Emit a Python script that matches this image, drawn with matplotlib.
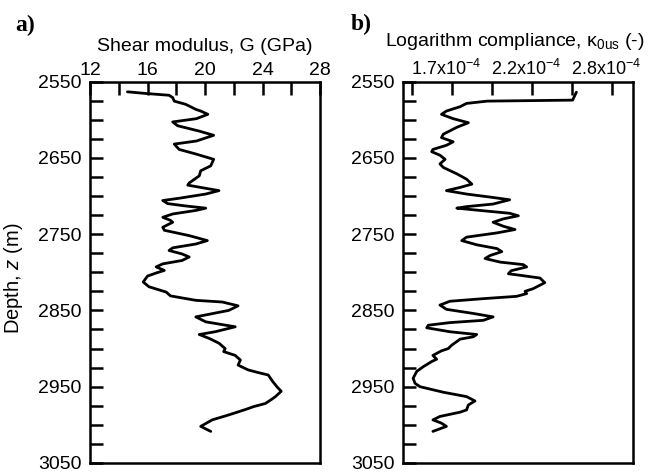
import numpy as np
import matplotlib
matplotlib.use("Agg")
import matplotlib.pyplot as plt
from matplotlib.ticker import FixedLocator, NullLocator
import matplotlib.transforms as mtransforms

plt.rcParams['font.family'] = ['Liberation Sans', 'DejaVu Sans']
plt.rcParams['mathtext.fontset'] = 'custom'
plt.rcParams['mathtext.rm'] = 'Liberation Sans'
plt.rcParams['mathtext.it'] = 'Liberation Sans:italic'

# panel a: shear modulus G (GPa) against depth (m)
depth_a = [2563.5, 2565.7, 2568, 2571, 2575.7, 2580, 2586.5, 2588.7, 2593, 2598.7,
           2603, 2608, 2615, 2620.5, 2628, 2632, 2639, 2645, 2652, 2660.5,
           2667, 2673.6, 2683, 2685.8, 2690, 2693, 2697.5, 2703, 2706, 2710,
           2713, 2716, 2719, 2723.6, 2728, 2732, 2734.5, 2741, 2745, 2752,
           2758.5, 2763, 2768, 2771.5, 2776, 2780, 2784.6, 2789, 2793, 2797.6,
           2801, 2805, 2812.8, 2819, 2826, 2831, 2836.8, 2839, 2844, 2850,
           2858.5, 2865, 2871.5, 2878, 2881.6, 2886.8, 2893, 2900, 2904, 2909,
           2915, 2921.7, 2928, 2931, 2934.7, 2943, 2950, 2956, 2963, 2967,
           2972, 2976, 2980, 2987, 2993.5, 3002, 3008.6]
shear_G = [14.6, 15.9, 17.5, 17.75, 17.86, 18.67, 19.36, 19.7, 20.2, 19.4,
           17.75, 18.1, 19.6, 20.6, 19.4, 17.86, 18.2, 19.36, 20.6, 20.4,
           19.7, 19.6, 18.9, 18.8, 20.05, 20.97, 20.05, 18.2, 17.06, 17.4,
           18.6, 20.05, 19.36, 17.75, 17.06, 17.6, 17.75, 17.06, 17.17, 18.9,
           20.16, 19.36, 17.75, 17.5, 18.4, 18.9, 18.4, 17.06, 16.6, 17.17,
           16.6, 16.0, 15.7, 16.1, 17.3, 17.6, 19.36, 21.2, 22.3, 21.65,
           19.36, 20.05, 22.1, 20.7, 19.6, 20.3, 20.97, 21.4, 21.3, 22.1,
           22.46, 22.3, 23.0, 23.6, 24.4, 24.7, 25.0, 25.3, 24.9, 24.6,
           24.2, 23.4, 22.8, 21.65, 20.5, 19.7, 20.4]

# panel b: logarithm compliance kappa_0us (x 1e-4) against depth (m)
depth_b = [2564, 2574.4, 2575.7, 2578.7, 2583, 2588.7, 2593, 2598.7, 2604, 2610,
           2619, 2623.5, 2629, 2633.6, 2639, 2642, 2646.6, 2652, 2658, 2662.7,
           2671, 2678, 2684.5, 2688.8, 2693, 2697.5, 2702, 2705, 2710.6, 2714,
           2716, 2719, 2722.7, 2726, 2730, 2734.5, 2739.7, 2744, 2748.4, 2754,
           2758.5, 2764, 2769, 2773, 2778, 2782, 2786.7, 2790, 2793, 2798,
           2802, 2804, 2807.6, 2813.7, 2821.5, 2825, 2828, 2831.6, 2834.6, 2838,
           2843, 2848.6, 2854, 2858.5, 2863, 2866, 2869.4, 2872.8, 2878, 2881.6,
           2884.6, 2887.7, 2895.6, 2900, 2903, 2909, 2914, 2917, 2923.8, 2930,
           2939, 2945.6, 2950, 2957.3, 2963, 2968.7, 2974, 2980.4, 2983.4, 2989,
           2993.5, 2997.8, 3002, 3008.6]
kappa = [2.52, 2.49, 1.90, 1.78, 1.744, 1.67, 1.644, 1.706, 1.79, 1.726,
         1.654, 1.644, 1.706, 1.67, 1.60, 1.594, 1.636, 1.663, 1.636, 1.654,
         1.726, 1.78, 1.81, 1.744, 1.67, 1.78, 1.936, 2.04, 1.936, 1.78,
         1.726, 1.858, 2.04, 2.097, 2.0, 1.936, 2.0, 2.075, 1.96, 1.78,
         1.753, 1.838, 1.96, 1.99, 1.918, 1.887, 1.98, 2.13, 2.153, 2.05,
         2.032, 2.11, 2.246, 2.28, 2.198, 2.142, 2.153, 2.085, 1.877, 1.689,
         1.636, 1.67, 1.818, 1.936, 1.877, 1.689, 1.577, 1.569, 1.689, 1.838,
         1.818, 1.744, 1.698, 1.68, 1.644, 1.60, 1.619, 1.594, 1.552, 1.52,
         1.503, 1.512, 1.536, 1.654, 1.78, 1.828, 1.79, 1.78, 1.744, 1.636,
         1.60, 1.644, 1.67, 1.60]

g_major = [12, 16, 20, 24, 28]
g_minor = [14, 18, 22, 26]
depth_major = [2550, 2650, 2750, 2850, 2950, 3050]
depth_minor = [2575, 2600, 2625, 2675, 2700, 2725, 2775, 2800, 2825,
               2875, 2900, 2925, 2975, 3000, 3025]
kappa_log_ticks = [0.175, 0.23, 0.285, 0.34, 0.395, 0.45]
kappa_labels = ['', '1.7x10$^{-4}$', '', '2.2x10$^{-4}$', '', '2.8x10$^{-4}$']

LW = 1.8
FS = 14

fig = plt.figure(figsize=(6.49, 4.72), dpi=100)
ax_a = fig.add_axes([0.1387, 0.0191, 0.3544, 0.8082])
ax_b = fig.add_axes([0.6205, 0.0191, 0.3549, 0.8082])

for ax in (ax_a, ax_b):
    ax.set_ylim(3050, 2550)
    ax.yaxis.set_major_locator(FixedLocator(depth_major))
    ax.yaxis.set_minor_locator(FixedLocator(depth_minor))
    ax.xaxis.set_label_position('top')
    ax.tick_params(which='both', direction='in', length=9, width=LW,
                   top=True, bottom=False, left=True, right=False,
                   labeltop=True, labelbottom=False, labelsize=FS)
    ax.tick_params(axis='y', pad=6)
    ax.tick_params(axis='x', pad=2)
    for sp in ax.spines.values():
        sp.set_linewidth(LW)

line_kw = dict(color='black', lw=2.0, solid_joinstyle='round',
               solid_capstyle='round')

# a) shear modulus
ax_a.plot(shear_G, depth_a, **line_kw)
ax_a.set_xlim(12, 28)
ax_a.xaxis.set_major_locator(FixedLocator(g_major))
ax_a.xaxis.set_minor_locator(FixedLocator(g_minor))
ax_a.set_xlabel('Shear modulus, G (GPa)', fontsize=FS, labelpad=8)
ax_a.set_ylabel('Depth, $z$ (m)', fontsize=14.5)
ax_a.yaxis.set_label_coords(-0.283, 0.485)

# b) logarithm compliance
ax_b.plot(kappa, depth_b, **line_kw)
ax_b.set_xscale('log')
ax_b.set_xlim(10 ** 0.1626, 10 ** 0.4793)
ax_b.set_xticks([10 ** t for t in kappa_log_ticks])
ax_b.set_xticklabels(kappa_labels)
ax_b.xaxis.set_minor_locator(NullLocator())
ax_b.tick_params(axis='x', labelsize=13)
shift = mtransforms.ScaledTranslation(-6 / 100, 0, fig.dpi_scale_trans)
for lab in ax_b.get_xticklabels():
    lab.set_transform(lab.get_transform() + shift)
ax_b.set_xlabel('Logarithm compliance, \u03ba$_{\\mathrm{0us}}$ (-)',
                fontsize=FS, labelpad=8)
ax_b.xaxis.set_label_coords(0.485, 1.0)
ax_b.xaxis.label.set_va('bottom')
ax_b.xaxis.label.set_transform(ax_b.transAxes + mtransforms.ScaledTranslation(
    0, 30 / 100, fig.dpi_scale_trans))

fig.text(25 / 649, 1 - 25 / 472, 'a)', fontfamily='Liberation Serif',
         fontweight='bold', fontsize=17, ha='center', va='center')
fig.text(361 / 649, 1 - 24 / 472, 'b)', fontfamily='Liberation Serif',
         fontweight='bold', fontsize=17, ha='center', va='center')

fig.savefig('out.png', dpi=100)
